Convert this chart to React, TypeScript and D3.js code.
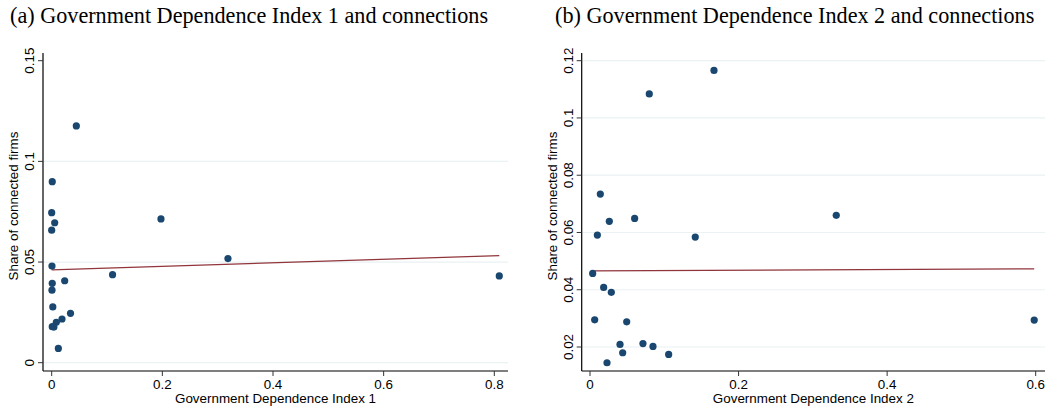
import React from 'react';
import * as d3 from 'd3';

// Panel (a): Government Dependence Index 1
const gdi1 = [0.0445, 0.001, 0, 0.0054, 0, 0.1975, 0.0005, 0.3186, 0.110, 0.0235,
  0.001, 0.0005, 0.002, 0.034, 0.0186, 0.0083, 0.001, 0.004, 0.012, 0.809];
const share1 = [0.1176, 0.0899, 0.0745, 0.0695, 0.0658, 0.0714, 0.048, 0.0517, 0.0437, 0.0407,
  0.0394, 0.036, 0.0277, 0.0245, 0.0217, 0.0201, 0.0179, 0.0177, 0.0071, 0.0431];
const fit1 = { intercept: 0.0461, slope: 0.0088 };
const xTicks1 = [0, 0.2, 0.4, 0.6, 0.8];
const yTicks1 = [0, 0.05, 0.1, 0.15];
const yGrid1 = [0, 0.05, 0.1];

// Panel (b): Government Dependence Index 2
const gdi2 = [0.1669, 0.0798, 0.0139, 0.026, 0.0601, 0.0099, 0.1417, 0.0036, 0.0184, 0.0287,
  0.0063, 0.0494, 0.0404, 0.0713, 0.0848, 0.044, 0.1059, 0.0229, 0.598, 0.3315];
const share2 = [0.1166, 0.1084, 0.0734, 0.0639, 0.0649, 0.0591, 0.0584, 0.0457, 0.0408, 0.0391,
  0.0295, 0.0288, 0.0209, 0.0212, 0.0202, 0.018, 0.0174, 0.0145, 0.0294, 0.066];
const fit2 = { intercept: 0.0466, slope: 0.0012 };
const xTicks2 = [0, 0.2, 0.4, 0.6];
const yTicks2 = [0.02, 0.04, 0.06, 0.08, 0.1, 0.12];

const navy = '#1a476f';
const maroon = '#90353b';
const grid = '#eaf2f3';
const sans = '"Liberation Sans", Arial, sans-serif';
const serif = '"Liberation Serif", "Times New Roman", serif';

const fmt = (v: number) => String(+v.toFixed(3));

const Panel = ({ title, titleX, axisX, rightX, xDomain, xRange, yDomain, yRange,
  xs, ys, fit, xTicks, yTicks, yGrid, xLabel }: any) => {
  const x = d3.scaleLinear().domain(xDomain).range(xRange);
  const y = d3.scaleLinear().domain(yDomain).range(yRange);
  const axisY = 371;
  const topY = 53;
  const x0 = d3.min(xs) as number;
  const x1 = d3.max(xs) as number;
  const line = d3.line<number>()
    .x(d => x(d))
    .y(d => y(fit.intercept + fit.slope * d));
  return (
    <g>
      <text x={titleX} y={23} fontFamily={serif} fontSize={22.2} fill="#000">{title}</text>
      {yGrid.map((t: number) => (
        <line key={'g' + t} x1={axisX} x2={rightX} y1={y(t)} y2={y(t)} stroke={grid} strokeWidth={1.2} />
      ))}
      <path d={line([x0, x1]) as string} fill="none" stroke={maroon} strokeWidth={1.2} />
      {xs.map((d: number, i: number) => (
        <circle key={i} cx={x(d)} cy={y(ys[i])} r={3.6} fill={navy} />
      ))}
      <line x1={axisX} x2={axisX} y1={topY} y2={axisY} stroke="#000" strokeWidth={1.2} />
      <line x1={axisX} x2={rightX} y1={axisY} y2={axisY} stroke="#000" strokeWidth={1.2} />
      {yTicks.map((t: number) => (
        <g key={'y' + t}>
          <line x1={axisX - 5} x2={axisX} y1={y(t)} y2={y(t)} stroke="#333" strokeWidth={1} />
          <text transform={`translate(${axisX - 9},${y(t)}) rotate(-90)`} textAnchor="middle"
            fontFamily={sans} fontSize={13.4} fill="#000">{fmt(t)}</text>
        </g>
      ))}
      {xTicks.map((t: number) => (
        <g key={'x' + t}>
          <line x1={x(t)} x2={x(t)} y1={axisY} y2={axisY + 5} stroke="#333" strokeWidth={1} />
          <text x={x(t)} y={389} textAnchor="middle" fontFamily={sans} fontSize={13.4} fill="#000">{fmt(t)}</text>
        </g>
      ))}
      <text transform={`translate(${axisX - 25},206) rotate(-90)`} textAnchor="middle"
        fontFamily={sans} fontSize={13.4} fill="#000">Share of connected firms</text>
      <text x={(axisX + rightX) / 2} y={403} textAnchor="middle" fontFamily={sans} fontSize={13.4} fill="#000">{xLabel}</text>
    </g>
  );
};

export default function App() {
  return (
    <svg width={1054} height={411} style={{ position: 'absolute', left: 0, top: 0, background: '#fff' }}>
      <rect width={1054} height={411} fill="#fff" />
      <Panel title="(a) Government Dependence Index 1 and connections" titleX={10}
        axisX={43} rightX={508} xDomain={[0, 0.8]} xRange={[51.7, 494.3]}
        yDomain={[0, 0.15]} yRange={[362.7, 60.7]} xs={gdi1} ys={share1} fit={fit1}
        xTicks={xTicks1} yTicks={yTicks1} yGrid={yGrid1} xLabel="Government Dependence Index 1" />
      <Panel title="(b) Government Dependence Index 2 and connections" titleX={555}
        axisX={581.7} rightX={1045} xDomain={[0, 0.6]} xRange={[590, 1035.7]}
        yDomain={[0.02, 0.12]} yRange={[347, 60.7]} xs={gdi2} ys={share2} fit={fit2}
        xTicks={xTicks2} yTicks={yTicks2} yGrid={yTicks2} xLabel="Government Dependence Index 2" />
    </svg>
  );
}
